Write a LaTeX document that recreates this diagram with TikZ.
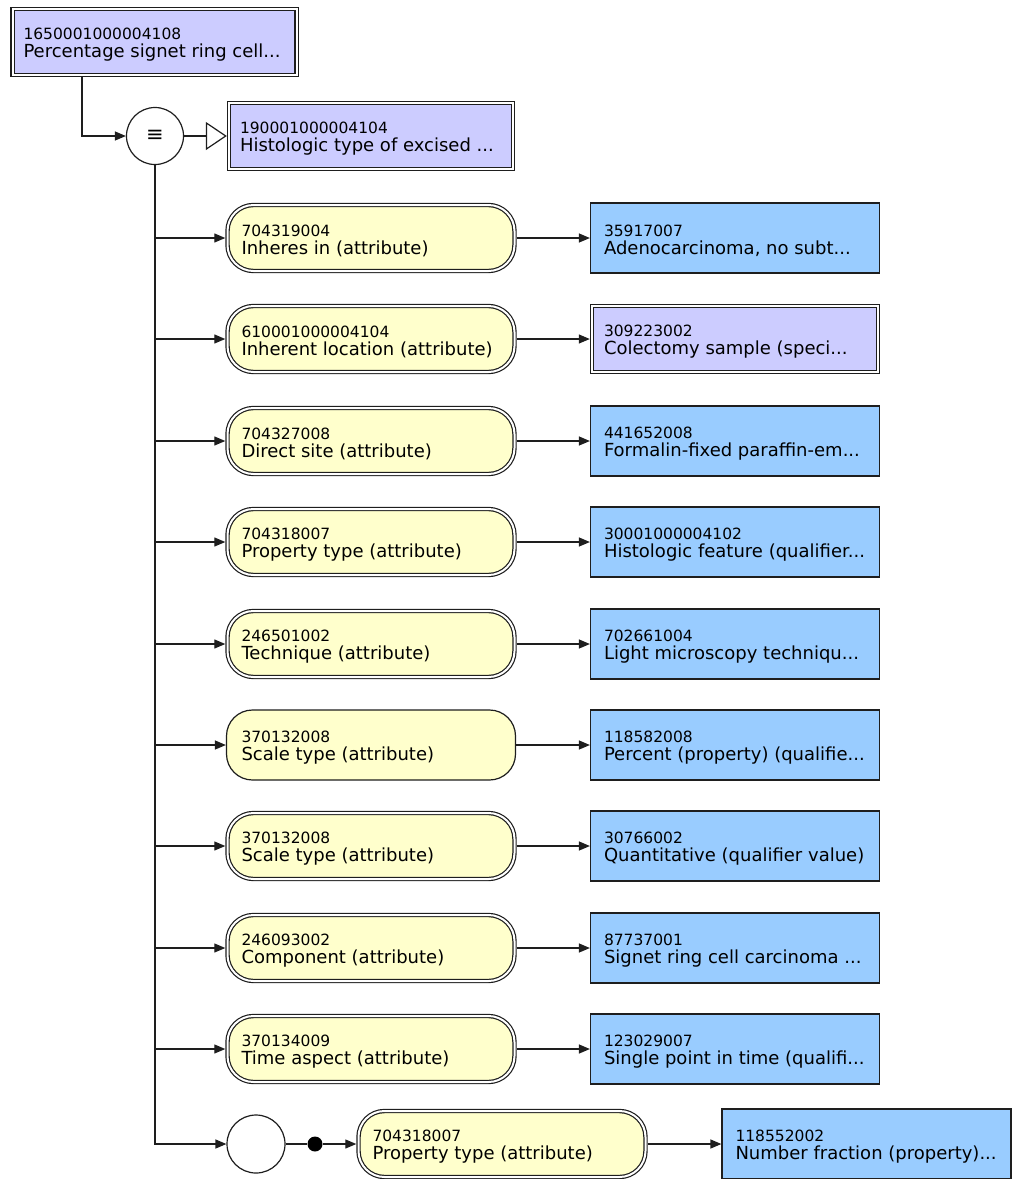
\documentclass[tikz,border=0pt]{standalone}
\usepackage{fontspec}
\setmainfont{DejaVu Sans}
\usetikzlibrary{arrows.meta}
\definecolor{lav}{RGB}{204,204,255}
\definecolor{sky}{RGB}{153,204,255}
\definecolor{cream}{RGB}{255,255,204}
\definecolor{edgec}{RGB}{30,30,30}
\newcommand\IDfont{\fontsize{15.5}{17}\selectfont}
\newcommand\NMfont{\fontsize{18}{19}\selectfont}
\newcommand\lbl[3]{\hbox to #1{\vbox{\vskip5pt\baselineskip=18pt\lineskiplimit=-20pt\hbox{\IDfont #2}\hbox{\NMfont #3}}\hss}}
\tikzset{
  base/.style={rectangle, draw=edgec, line width=1.2pt, inner sep=0pt, text=black},
  dbl/.style={double=white, double distance=2pt, outer sep=2.2pt},
  concept/.style={base, fill=lav, minimum width=284pt, minimum height=66pt},
  attr/.style={base, fill=cream, rounded corners=26pt, minimum width=289pt, minimum height=70pt},
  attrd/.style={attr, dbl, minimum width=287pt, minimum height=66pt},
  val/.style={base, fill=sky, minimum width=289pt, minimum height=70pt},
  vald/.style={base, dbl, fill=lav, minimum width=286pt, minimum height=66pt},
  conn/.style={draw=edgec, line width=1.2pt},
  arr/.style={conn, -{Triangle[length=11pt,width=9pt]}},
  opentip/.style={conn, -{Triangle[open,length=21pt,width=28pt,fill=white]}},
}
\begin{document}
\begin{tikzpicture}[x=1pt,y=-1pt]
\useasboundingbox (0,0) rectangle (1012,1179);
% top concepts
\node[concept,dbl] (top) at (154.5,42) {\lbl{262pt}{1650001000004108}{Percentage signet ring cell...}};
\node[circle, draw=edgec, line width=1.2pt, fill=white, minimum size=57pt, inner sep=0pt] (eq) at (155,136) {\fontsize{21}{21}\selectfont ≡};
\node[concept,dbl] (b2) at (371,136) {\lbl{262pt}{190001000004104}{Histologic type of excised ...}};
% attribute rows
\node[attrd] (a1) at (371,238) {\lbl{259pt}{704319004}{Inheres in (attribute)}};
\node[val] (v1) at (735,238) {\lbl{262pt}{35917007}{Adenocarcinoma, no subt...}};
\node[attrd] (a2) at (371,339) {\lbl{259pt}{610001000004104}{Inherent location (attribute)}};
\node[vald] (v2) at (735,339) {\lbl{262pt}{309223002}{Colectomy sample (speci...}};
\node[attrd] (a3) at (371,441) {\lbl{259pt}{704327008}{Direct site (attribute)}};
\node[val] (v3) at (735,441) {\lbl{262pt}{441652008}{Formalin-fixed paraffin-em...}};
\node[attrd] (a4) at (371,542) {\lbl{259pt}{704318007}{Property type (attribute)}};
\node[val] (v4) at (735,542) {\lbl{262pt}{30001000004102}{Histologic feature (qualifier...}};
\node[attrd] (a5) at (371,644) {\lbl{259pt}{246501002}{Technique (attribute)}};
\node[val] (v5) at (735,644) {\lbl{262pt}{702661004}{Light microscopy techniqu...}};
\node[attr] (a6) at (371,745) {\lbl{259pt}{370132008}{Scale type (attribute)}};
\node[val] (v6) at (735,745) {\lbl{262pt}{118582008}{Percent (property) (qualifie...}};
\node[attrd] (a7) at (371,846) {\lbl{259pt}{370132008}{Scale type (attribute)}};
\node[val] (v7) at (735,846) {\lbl{262pt}{30766002}{Quantitative (qualifier value)}};
\node[attrd] (a8) at (371,948) {\lbl{259pt}{246093002}{Component (attribute)}};
\node[val] (v8) at (735,948) {\lbl{262pt}{87737001}{Signet ring cell carcinoma ...}};
\node[attrd] (a9) at (371,1049) {\lbl{259pt}{370134009}{Time aspect (attribute)}};
\node[val] (v9) at (735,1049) {\lbl{262pt}{123029007}{Single point in time (qualifi...}};
% bottom group
\node[circle, draw=edgec, line width=1.2pt, fill=white, minimum size=58pt, inner sep=0pt] (c2) at (256,1144) {};
\node[circle, fill=black, minimum size=15pt, inner sep=0pt] (dot) at (315,1144) {};
\node[attrd] (a10) at (502,1144) {\lbl{259pt}{704318007}{Property type (attribute)}};
\node[val] (v10) at (866.5,1144) {\lbl{262pt}{118552002}{Number fraction (property)...}};
% connectors
\coordinate (tap) at (82,0);
\draw[arr] (top.south -| tap) |- (eq.west);
\draw[opentip] (eq.east) -- (b2.west);
\draw[arr] (eq.south) |- (c2.west);
\foreach \k in {1,...,9} {
  \draw[arr] (eq.south |- a\k.west) -- (a\k.west);
  \draw[arr] (a\k.east) -- (v\k.west);
}
\draw[conn] (c2.east) -- (dot);
\draw[arr] (dot) -- (a10.west);
\draw[arr] (a10.east) -- (v10.west);
\end{tikzpicture}
\end{document}
